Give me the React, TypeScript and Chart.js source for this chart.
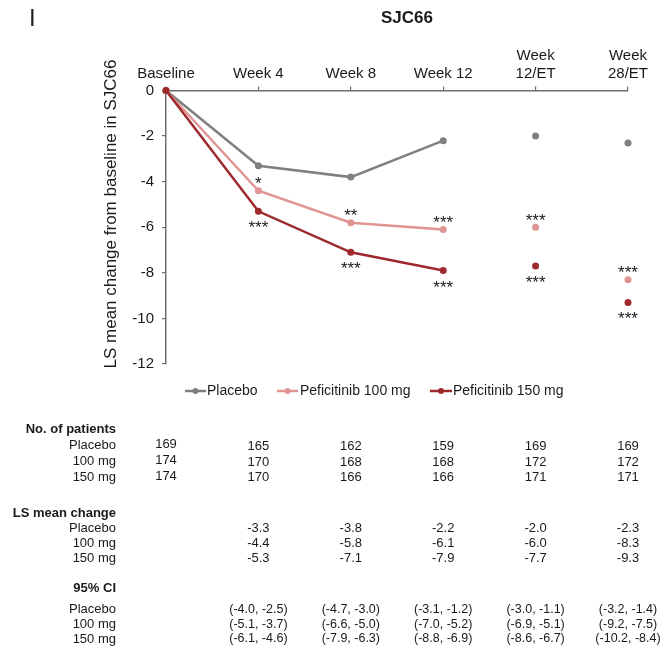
import React, { useEffect, useRef } from 'react';
import { Chart, registerables } from 'chart.js';

Chart.register(...registerables);

const FONT = '"Liberation Sans", Arial, Helvetica, sans-serif';

const panelLabel = 'I';
const chartTitle = 'SJC66';
const yAxisTitle = 'LS mean change from baseline in SJC66';
const categories: (string | string[])[] = ['Baseline', 'Week 4', 'Week 8', 'Week 12', ['Week', '12/ET'], ['Week', '28/ET']];
const seriesNames = ['Placebo', 'Peficitinib 100 mg', 'Peficitinib 150 mg'];
const rowNames = ['Placebo', '100 mg', '150 mg'];
const seriesColors = ['#808080', '#e09494', '#9e2a2e'];

const placebo = [0, -3.3, -3.8, -2.2, -2.0, -2.3];
const pef100 = [0, -4.4, -5.8, -6.1, -6.0, -8.3];
const pef150 = [0, -5.3, -7.1, -7.9, -7.7, -9.3];

const sig100 = ['', '*', '**', '***', '***', '***'];
const sig150 = ['', '***', '***', '***', '***', '***'];

const nPlacebo = [169, 165, 162, 159, 169, 169];
const n100 = [174, 170, 168, 168, 172, 172];
const n150 = [174, 170, 166, 166, 171, 171];

const ciPlaceboLow = [-4.0, -4.7, -3.1, -3.0, -3.2];
const ciPlaceboHigh = [-2.5, -3.0, -1.2, -1.1, -1.4];
const ci100Low = [-5.1, -6.6, -7.0, -6.9, -9.2];
const ci100High = [-3.7, -5.0, -5.2, -5.1, -7.5];
const ci150Low = [-6.1, -7.9, -8.8, -8.6, -10.2];
const ci150High = [-4.6, -6.3, -6.9, -6.7, -8.4];

const yMin = -12;
const yMax = 0;
const yStep = 2;

const tableHeaders = ['No. of patients', 'LS mean change', '95% CI'];

const lastConnectedIndex = 3;

const overlayPlugin = {
  id: 'overlay',
  afterDraw(chart: any) {
    const ctx = chart.ctx as CanvasRenderingContext2D;
    const xs = chart.scales.x;
    const text = '#1a1a1a';
    ctx.save();

    // panel label
    ctx.fillStyle = '#222';
    ctx.font = `24px ${FONT}`;
    ctx.textAlign = 'left';
    ctx.textBaseline = 'alphabetic';
    ctx.fillText(panelLabel, 29, 26);

    // title
    ctx.fillStyle = text;
    ctx.font = `bold 17px ${FONT}`;
    ctx.textAlign = 'center';
    ctx.textBaseline = 'middle';
    ctx.fillText(chartTitle, 407, 18);

    // y title
    ctx.save();
    ctx.translate(111, 214);
    ctx.rotate(-Math.PI / 2);
    ctx.font = `17px ${FONT}`;
    ctx.textAlign = 'center';
    ctx.textBaseline = 'middle';
    ctx.fillText(yAxisTitle, 0, 0);
    ctx.restore();

    // significance marks
    ctx.font = `17px ${FONT}`;
    ctx.textAlign = 'center';
    ctx.textBaseline = 'alphabetic';
    ctx.fillStyle = text;
    const m100 = chart.getDatasetMeta(1).data;
    const m150 = chart.getDatasetMeta(2).data;
    sig100.forEach((s, i) => {
      if (!s) return;
      const p = m100[i];
      ctx.fillText(s, p.x, p.y - 1.5);
    });
    sig150.forEach((s, i) => {
      if (!s) return;
      const p = m150[i];
      ctx.fillText(s, p.x, p.y + 22);
    });

    // legend
    const legendY = 391;
    const legendItems = [
      { x0: 185, x1: 206, tx: 207 },
      { x0: 277, x1: 298, tx: 300 },
      { x0: 430, x1: 452, tx: 453 },
    ];
    ctx.font = `14px ${FONT}`;
    ctx.textBaseline = 'middle';
    ctx.textAlign = 'left';
    legendItems.forEach((it, i) => {
      ctx.strokeStyle = seriesColors[i];
      ctx.lineWidth = 2.5;
      ctx.beginPath();
      ctx.moveTo(it.x0, legendY);
      ctx.lineTo(it.x1, legendY);
      ctx.stroke();
      ctx.fillStyle = seriesColors[i];
      ctx.beginPath();
      ctx.arc((it.x0 + it.x1) / 2, legendY, 3, 0, Math.PI * 2);
      ctx.fill();
      ctx.fillStyle = text;
      ctx.fillText(seriesNames[i], it.tx, legendY);
    });

    // table
    const labelRight = 116;
    const colX = (i: number) => xs.getPixelForValue(i);
    const drawHeader = (s: string, y: number) => {
      ctx.font = `bold 13px ${FONT}`;
      ctx.textAlign = 'right';
      ctx.fillStyle = text;
      ctx.fillText(s, labelRight, y);
    };
    const drawRowLabel = (s: string, y: number) => {
      ctx.font = `13px ${FONT}`;
      ctx.textAlign = 'right';
      ctx.fillText(s, labelRight, y);
    };
    ctx.textBaseline = 'middle';

    // No. of patients
    drawHeader(tableHeaders[0], 429);
    const nRows = [nPlacebo, n100, n150];
    const nY = [445.5, 461.5, 477];
    nRows.forEach((row, r) => {
      drawRowLabel(rowNames[r], nY[r]);
      ctx.font = `13px ${FONT}`;
      ctx.textAlign = 'center';
      row.forEach((v, i) => ctx.fillText(String(v), colX(i), nY[r] + (i === 0 ? -1 : 0.5)));
    });

    // LS mean change
    drawHeader(tableHeaders[1], 513);
    const lsRows = [placebo, pef100, pef150];
    const lsY = [528, 543.3, 558.3];
    lsRows.forEach((row, r) => {
      drawRowLabel(rowNames[r], lsY[r]);
      ctx.font = `13px ${FONT}`;
      ctx.textAlign = 'center';
      row.forEach((v, i) => {
        if (i === 0) return;
        ctx.fillText(v.toFixed(1), colX(i), lsY[r]);
      });
    });

    // 95% CI
    drawHeader(tableHeaders[2], 588.5);
    const ciRows = [
      [ciPlaceboLow, ciPlaceboHigh],
      [ci100Low, ci100High],
      [ci150Low, ci150High],
    ];
    const ciY = [609.5, 624.5, 639];
    ciRows.forEach((pair, r) => {
      drawRowLabel(rowNames[r], ciY[r]);
      ctx.font = `12.5px ${FONT}`;
      ctx.textAlign = 'center';
      pair[0].forEach((lo, k) => {
        const hi = pair[1][k];
        ctx.fillText(`(${lo.toFixed(1)}, ${hi.toFixed(1)})`, colX(k + 1), ciY[r]);
      });
    });

    ctx.restore();
  },
};

export default function App() {
  const ref = useRef<HTMLCanvasElement | null>(null);

  useEffect(() => {
    if (!ref.current) return;
    const hideSeg = (c: any) => (c.p1DataIndex > lastConnectedIndex ? 'rgba(0,0,0,0)' : undefined);
    const mk = (label: string, data: number[], color: string, order: number) => ({
      label,
      data,
      borderColor: color,
      backgroundColor: color,
      pointBackgroundColor: color,
      pointBorderColor: color,
      pointRadius: 3.5,
      pointBorderWidth: 0,
      borderWidth: 2.5,
      tension: 0,
      clip: false as any,
      order,
      segment: { borderColor: hideSeg },
    });
    const chart = new Chart(ref.current, {
      type: 'line',
      data: {
        labels: categories as any,
        datasets: [
          mk(seriesNames[0], placebo, seriesColors[0], 2),
          mk(seriesNames[1], pef100, seriesColors[1], 1),
          mk(seriesNames[2], pef150, seriesColors[2], 0),
        ],
      },
      options: {
        responsive: false,
        animation: false,
        devicePixelRatio: 1,
        layout: { padding: { left: 0, right: 32, top: 0, bottom: 283 } },
        plugins: {
          legend: { display: false },
          title: { display: false },
          tooltip: { enabled: false },
        },
        scales: {
          x: {
            type: 'category',
            position: 'top',
            offset: false,
            afterFit: (s: any) => {
              s.height = 90.5;
            },
            grid: { drawOnChartArea: false, drawTicks: true, tickLength: 4, color: '#6e6e6e', lineWidth: 1.2 },
            border: { display: true, color: '#6e6e6e', width: 1.5 },
            ticks: {
              color: '#1a1a1a',
              font: { family: FONT, size: 15, lineHeight: 1.2 },
              padding: 4,
              maxRotation: 0,
              autoSkip: false,
            },
          },
          y: {
            min: yMin,
            max: yMax,
            afterFit: (s: any) => {
              s.width = 166;
            },
            grid: { drawOnChartArea: false, drawTicks: true, tickLength: 4, color: '#6e6e6e', lineWidth: 1.2 },
            border: { display: true, color: '#6e6e6e', width: 1.5 },
            ticks: {
              stepSize: yStep,
              color: '#1a1a1a',
              font: { family: FONT, size: 15 },
              padding: 8,
            },
          },
        },
      },
      plugins: [overlayPlugin],
    });
    return () => chart.destroy();
  }, []);

  return (
    <canvas
      ref={ref}
      width={660}
      height={647}
      style={{ position: 'absolute', left: 0, top: 0, width: 660, height: 647, background: '#fff' }}
    />
  );
}
